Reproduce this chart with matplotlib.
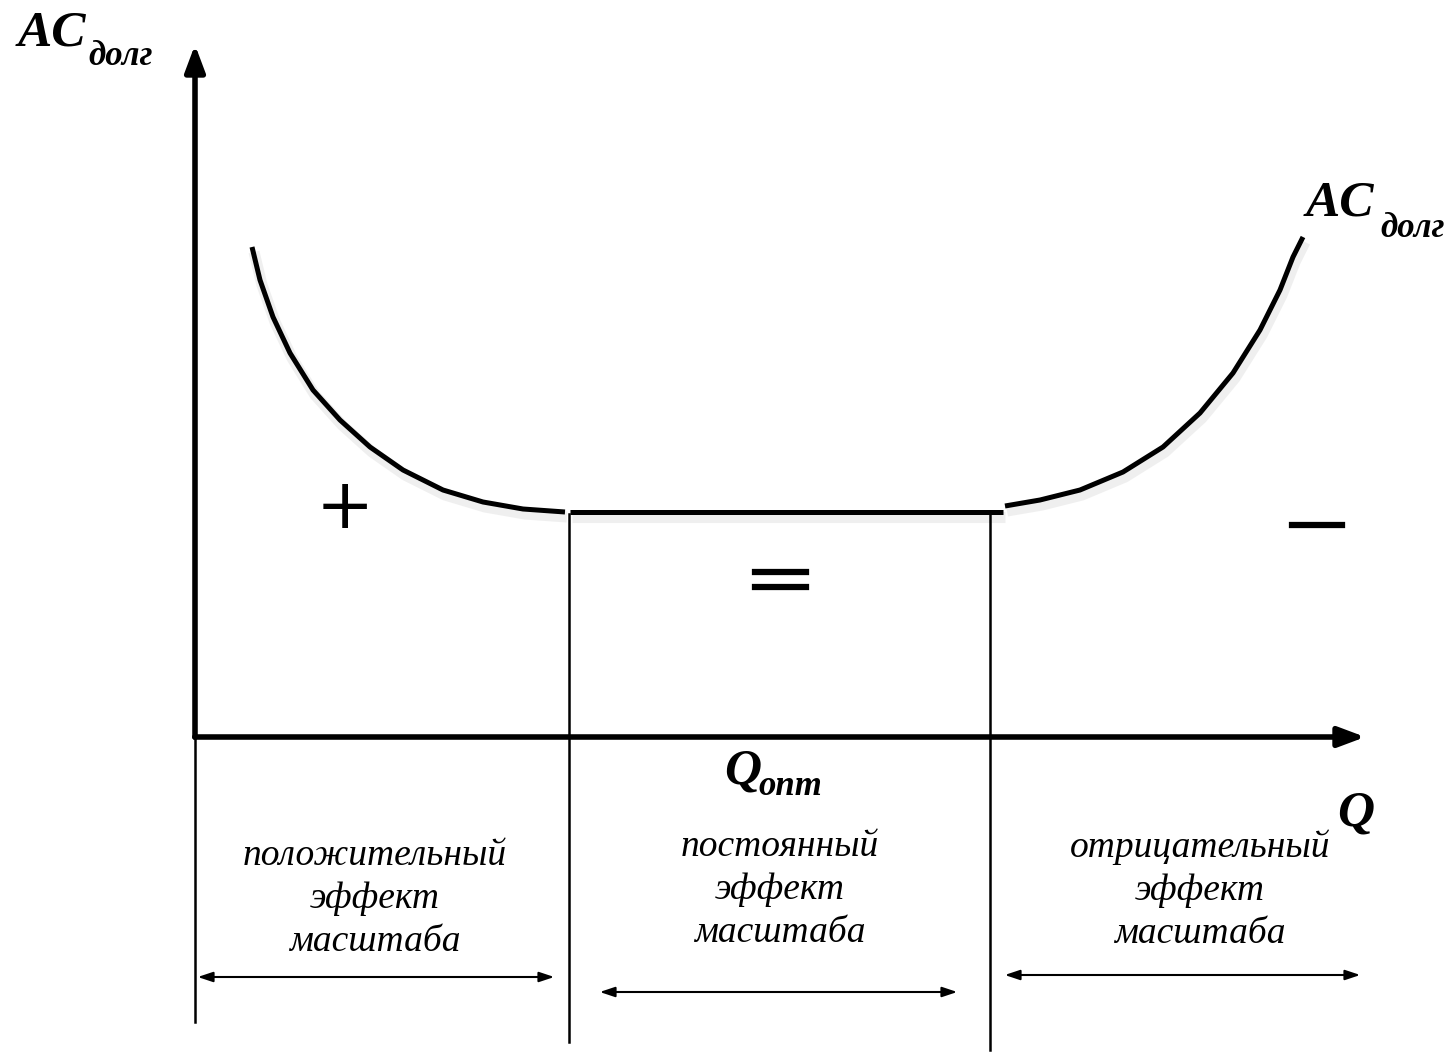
import matplotlib.pyplot as plt
from matplotlib.patches import FancyArrowPatch

# кривая долгосрочных средних издержек (в пикселях картинки)
left_x = [252, 260, 273, 290, 313, 340, 370, 403, 443, 483, 523, 565]
left_y = [247, 280, 317, 353, 390, 420, 447, 470, 490, 502, 509, 512]
flat_x = [570, 1003]
flat_y = [512, 512]
right_x = [1005, 1040, 1080, 1123, 1163, 1200, 1233, 1260, 1280, 1293, 1303]
right_y = [506, 500, 490, 472, 447, 413, 373, 330, 290, 257, 237]

q_opt_left = 569
q_opt_right = 990
labels = ["положительный\nэффект\nмасштаба",
          "постоянный\nэффект\nмасштаба",
          "отрицательный\nэффект\nмасштаба"]
label_pos = [(375, 899), (780, 890), (1200, 890)]
span_arrows = [(195, 557, 977), (597, 960, 992), (1002, 1363, 975)]

W, H = 1453, 1052
fig = plt.figure(figsize=(W / 100, H / 100), dpi=100)
ax = fig.add_axes([0, 0, 1, 1])
ax.set_xlim(0, W)
ax.set_ylim(H, 0)
ax.axis("off")

serif = "Liberation Serif"

# оси
ax.annotate("", xy=(195, 42), xytext=(195, 740),
            arrowprops=dict(arrowstyle="-|>,head_length=1.6,head_width=0.6", lw=4, color="black"))
ax.annotate("", xy=(1368, 737), xytext=(192, 737),
            arrowprops=dict(arrowstyle="-|>,head_length=1.6,head_width=0.6", lw=4, color="black"))

# кривая + лёгкая тень
for xs, ys in [(left_x, left_y), (flat_x, flat_y), (right_x, right_y)]:
    ax.plot([x + 2 for x in xs], [y + 5 for y in ys], color="#dddddd", lw=8, alpha=0.45,
            solid_capstyle="butt", solid_joinstyle="round")
    ax.plot(xs, ys, color="black", lw=3.6, solid_capstyle="butt", solid_joinstyle="round")

# вертикальные разделители
ax.plot([195, 195], [737, 1022], color="black", lw=1.8)
ax.plot([q_opt_left, q_opt_left], [514, 1042], color="black", lw=1.8)
ax.plot([q_opt_right, q_opt_right], [514, 1050], color="black", lw=1.8)

# двусторонние стрелки
for x0, x1, y in span_arrows:
    ax.add_patch(FancyArrowPatch((x0, y), (x1, y), arrowstyle="<|-|>,head_length=9,head_width=3",
                                 lw=1.5, color="black", mutation_scale=1))

for (x, y), s in zip(label_pos, labels):
    ax.text(x, y, s, ha="center", va="center", fontsize=27, style="italic",
            family=serif, linespacing=1.32)

# знаки
ax.text(345, 508, "+", ha="center", va="center", fontsize=50, family="DejaVu Sans")
ax.plot([1292, 1342], [525, 525], color="black", lw=4.5)
ax.plot([755, 806], [572, 572], color="black", lw=4.5)
ax.plot([755, 806], [587, 587], color="black", lw=4.5)

# подписи
bi = dict(family=serif, weight="bold", style="italic", color="black")
ax.text(18, 46, "AC", fontsize=37, va="baseline", **bi)
ax.text(88, 65, "долг", fontsize=25, va="baseline", **bi)
ax.text(1306, 216, "AC", fontsize=37, va="baseline", **bi)
ax.text(1380, 237, "долг", fontsize=25, va="baseline", **bi)
ax.text(724, 784, "Q", fontsize=37, va="baseline", **bi)
ax.text(758, 795, "опт", fontsize=25, va="baseline", **bi)
ax.text(1337, 826, "Q", fontsize=37, va="baseline", **bi)

fig.savefig("out.png", dpi=100)
